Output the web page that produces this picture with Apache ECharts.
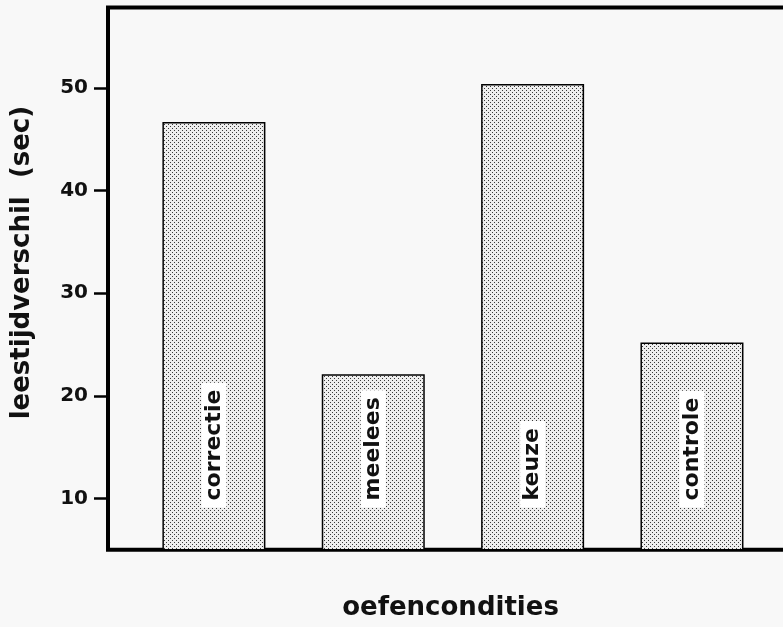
<!DOCTYPE html>
<html>
<head>
<meta charset="utf-8">
<script src="https://cdn.jsdelivr.net/npm/echarts@6/dist/echarts.min.js"></script>
<style>
html,body{margin:0;padding:0;background:#f8f8f8;}
#chart{width:783px;height:627px;}
</style>
</head>
<body>
<div id="chart"></div>
<script>
// ---- data ----
var categories = ['correctie', 'meelees', 'keuze', 'controle'];
var values = [46.7, 22.1, 50.4, 25.2];
var yTickValues = [10, 20, 30, 40, 50];
var yAxisTitle = 'leestijdverschil  (sec)';
var xAxisTitle = 'oefencondities';

// ---- dotted fill pattern ----
var tile = document.createElement('canvas');
tile.width = 4; tile.height = 4;
var tc = tile.getContext('2d');
tc.fillStyle = '#eeeeee';
tc.fillRect(0, 0, 4, 4);
tc.fillStyle = '#3a3a3a';
tc.fillRect(0, 0, 1, 1);
tc.fillRect(2, 2, 1, 1);

var seriesData = categories.map(function (c, i) { return [i + 1, values[i]]; });

var chart = echarts.init(document.getElementById('chart'), null, {renderer: 'canvas'});
var FONT = 'DejaVu Sans';
chart.setOption({
  backgroundColor: '#f8f8f8',
  animation: false,
  grid: {
    left: 108, top: 7.5, bottom: 77.3, right: -10,
    containLabel: false, outerBoundsMode: 'none',
    show: true, borderColor: '#000', borderWidth: 4, backgroundColor: 'transparent'
  },
  xAxis: {
    type: 'value', min: 0.3354, max: 4.634,
    axisLine: {show: false}, axisTick: {show: false}, axisLabel: {show: false},
    splitLine: {show: false},
    name: xAxisTitle, nameLocation: 'middle', nameGap: 46,
    nameTextStyle: {fontFamily: FONT, fontWeight: 'bold', fontSize: 26, color: '#111'}
  },
  yAxis: {
    type: 'value', min: 5, max: 57.85,
    axisLine: {show: false},
    splitLine: {show: false},
    axisTick: {show: true, inside: false, length: 14, customValues: yTickValues,
      lineStyle: {color: '#000', width: 2.5}},
    axisLabel: {show: true, customValues: yTickValues, margin: 20,
      fontFamily: FONT, fontWeight: 'bold', fontSize: 20, color: '#111'},
    name: yAxisTitle, nameLocation: 'middle', nameGap: 73,
    nameTextStyle: {fontFamily: FONT, fontWeight: 'bold', fontSize: 26, color: '#111',
      padding: [0, 0, 0, 32]}
  },
  series: [{
    type: 'bar',
    data: seriesData,
    barWidth: 103,
    itemStyle: {
      color: {image: tile, repeat: 'repeat'},
      borderColor: '#000', borderWidth: 1.5
    },
    label: {
      show: true,
      position: 'insideBottom',
      distance: 43,
      rotate: 90,
      align: 'left',
      verticalAlign: 'middle',
      formatter: function (p) { return categories[p.dataIndex]; },
      fontFamily: FONT, fontWeight: 'bold', fontSize: 22, color: '#111',
      lineHeight: 23,
      backgroundColor: '#ffffff',
      padding: [1, 7, 1, 7]
    }
  }]
});
</script>
</body>
</html>
